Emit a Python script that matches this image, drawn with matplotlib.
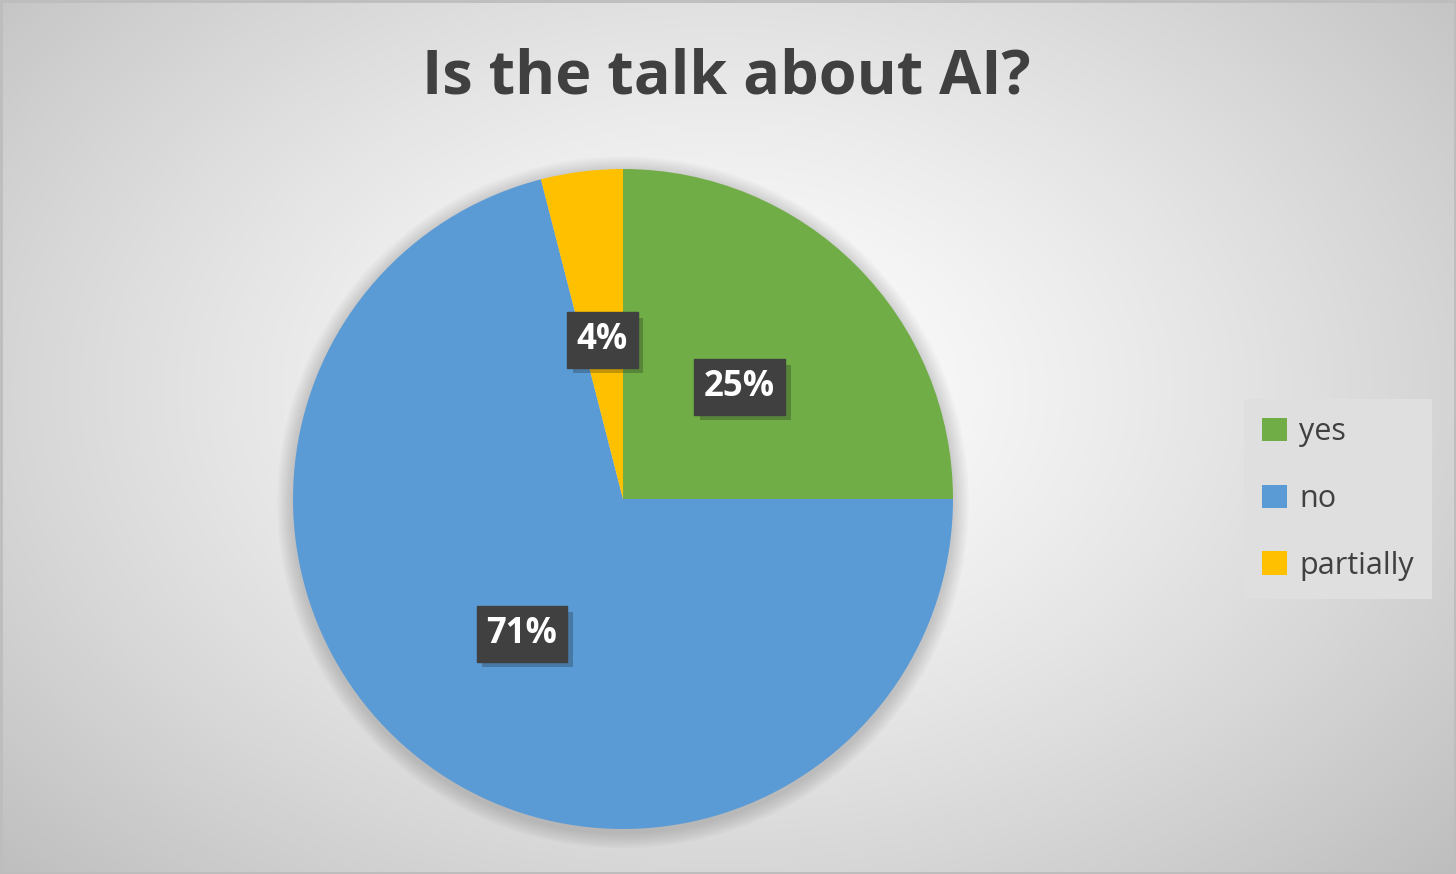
import numpy as np
import matplotlib.pyplot as plt
import matplotlib.patheffects as pe

# datos del grafico
categorias = ['yes', 'no', 'partially']
porcentajes = [25, 71, 4]
colores = ['#70AD47', '#5B9BD5', '#FFC000']
titulo = 'Is the talk about AI?'

W, H = 1456, 874
fig = plt.figure(figsize=(W / 100, H / 100), dpi=100)
plt.rcParams['font.family'] = ['Open Sans', 'DejaVu Sans']

# fondo con degradado radial (estilo Excel)
bg = fig.add_axes([0, 0, 1, 1])
yy, xx = np.mgrid[0:H, 0:W]
d = np.sqrt(((xx - 720) / 900.0) ** 2 + ((yy - 390) / 620.0) ** 2)
g = 1.0 - 0.22 * np.clip(d, 0, 1.2) ** 1.3
bg.imshow(np.dstack([g, g, g]), extent=[0, W, H, 0], aspect='auto')
bg.set_xlim(0, W)
bg.set_ylim(H, 0)
bg.axis('off')
bg.add_patch(plt.Rectangle((1, 1), W - 2, H - 2, fill=False, ec='#BDBDBD', lw=2))

# pastel
R = 330
cx, cy = 623, 874 - 499
half = 360
ax = fig.add_axes([(cx - half) / W, (cy - half) / H, 2 * half / W, 2 * half / H])

wedges, textos, autotextos = ax.pie(porcentajes, colors=colores, startangle=90, counterclock=False,
                                    radius=1, autopct='%1.0f%%', pctdistance=0.5,
                                    wedgeprops=dict(linewidth=0))
ax.set_xlim(-half / R, half / R)
ax.set_ylim(-half / R, half / R)
ax.axis('off')

# sombra suave alrededor del pastel
for k in range(8):
    ax.add_patch(plt.Circle((0.0, -0.01), 1 + 0.006 * (k + 1), color='black',
                            alpha=0.02, lw=0, zorder=0))

for t in autotextos:
    t.set_color('white')
    t.set_fontsize(25)
    t.set_fontweight('bold')
    t.set_verticalalignment('center_baseline')
    t.set_bbox(dict(boxstyle='square,pad=0.28', fc='#404040', ec='#404040'))
    t.get_bbox_patch().set_path_effects([pe.SimplePatchShadow(offset=(4, -4), alpha=0.25), pe.Normal()])

fig.text(0.499, 1 - 78 / H, titulo, ha='center', va='center', fontsize=44, fontweight='bold', color='#404040')

leg = fig.legend(wedges, categorias, loc='center', bbox_to_anchor=(1338 / W, 1 - 499 / H),
                 fontsize=22, labelcolor='#404040', frameon=True, fancybox=False,
                 handlelength=0.8, handleheight=0.8, handletextpad=0.4,
                 labelspacing=1.2, borderpad=0.6)
leg.get_frame().set_facecolor('#DFDFDF')
leg.get_frame().set_edgecolor('none')
leg.get_frame().set_alpha(1)

fig.savefig('out.png', dpi=100)
